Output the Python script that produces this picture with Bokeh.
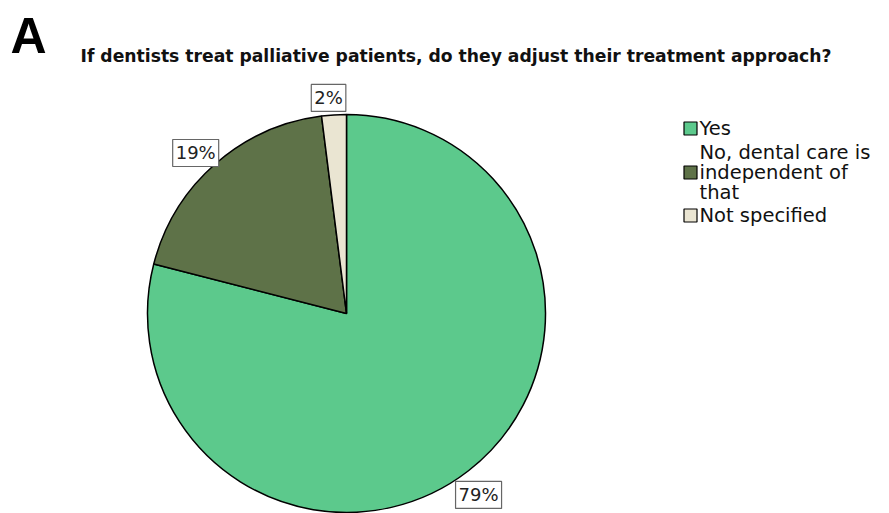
import numpy as np
from bokeh.plotting import figure
from bokeh.models import Range1d, ColumnDataSource
from bokeh.core.properties import value
from bokeh.embed import file_html
from bokeh.resources import INLINE

# Survey answers
categories = ["Yes", "No, dental care is\nindependent of\nthat", "Not specified"]
percentages = [79, 19, 2]
colors = ["#5CC98C", "#5E7248", "#EAE5D2"]
title_text = "If dentists treat palliative patients, do they adjust their treatment approach?"
panel_letter = "A"

W, H = 889, 513
p = figure(width=W, height=H, output_backend="svg", toolbar_location=None,
           x_range=Range1d(0, W), y_range=Range1d(0, H), min_border=0)
p.axis.visible = False
p.grid.visible = False
p.outline_line_color = None
p.background_fill_color = "white"

# Pie geometry (starts at 12 o'clock, runs clockwise)
cx, cy, r = 346, H - 313, 199
frac = np.array(percentages, dtype=float) / sum(percentages)
ends = np.cumsum(frac)
starts = ends - frac
start_angle = np.pi / 2 - ends * 2 * np.pi
end_angle = np.pi / 2 - starts * 2 * np.pi
mid = (start_angle + end_angle) / 2

src = ColumnDataSource(dict(start=start_angle, end=end_angle, color=colors))
p.wedge(x=cx, y=cy, radius=r, start_angle="start", end_angle="end",
        fill_color="color", line_color="black", line_width=1.5, source=src)

# Percentage labels just outside each slice
lr = 222
lab = ColumnDataSource(dict(
    x=cx + lr * np.cos(mid) - 4,
    y=cy + lr * np.sin(mid) - 6,
    t=[f"{v}%" for v in percentages],
))
p.text(x="x", y="y", text="t", source=lab,
       text_font=value("DejaVu Sans"), text_font_size="18px",
       text_color="#222222", text_align="center", text_baseline="middle",
       background_fill_color="white", border_line_color="#666666",
       border_line_width=1.2, padding=3)

# Legend drawn as swatches and text
leg_x = 690
leg_y = [H - 128, H - 172, H - 215]
p.rect(x=leg_x, y=leg_y, width=13, height=13, fill_color=colors,
       line_color="black", line_width=1.2)
p.text(x=leg_x + 9, y=leg_y, text=categories, text_font=value("DejaVu Sans"),
       text_font_size="19.5px", text_color="#111111", text_baseline="middle",
       text_line_height=0.86)

# Title and panel letter
p.text(x=[80], y=[H - 55], text=[title_text], text_font=value("DejaVu Sans"),
       text_font_style="bold", text_font_size="17.2px", text_baseline="middle",
       text_color="#111111")
p.text(x=[10], y=[H - 35], text=[panel_letter], text_font=value("Liberation Sans"),
       text_font_style="bold", text_font_size="50px", text_baseline="middle",
       text_color="black")

open("out.html", "w").write(file_html(p, INLINE))
